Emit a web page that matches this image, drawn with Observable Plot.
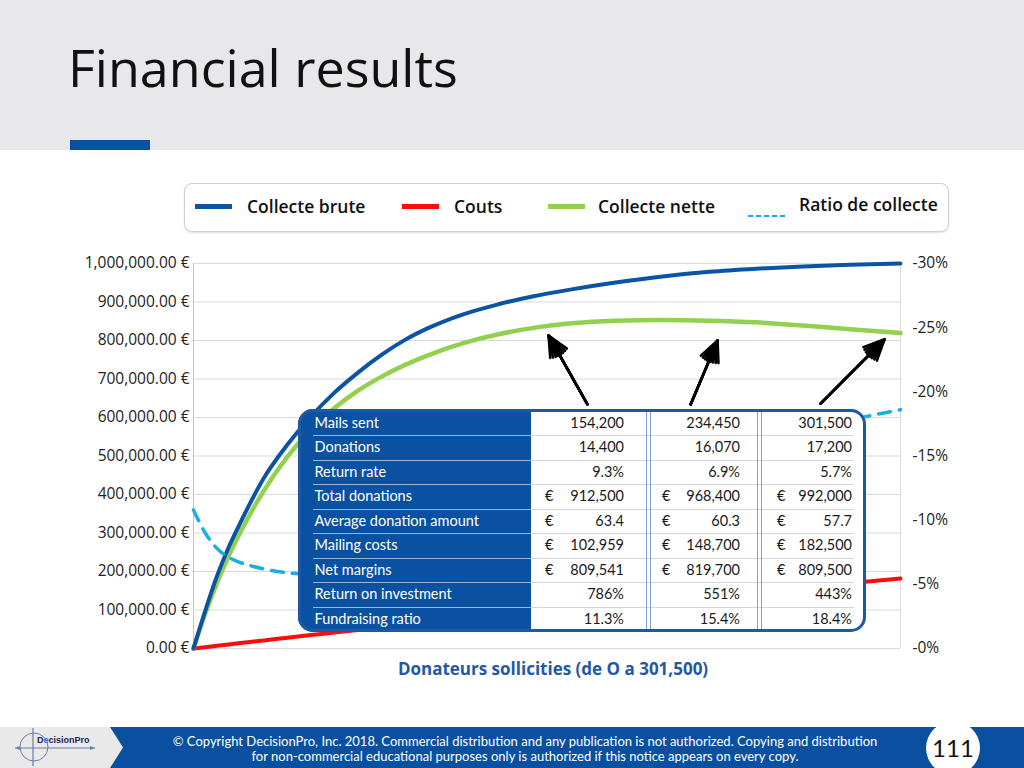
<!DOCTYPE html>
<html><head><meta charset="utf-8">
<script src="https://cdn.jsdelivr.net/npm/d3@7"></script>
<script src="https://cdn.jsdelivr.net/npm/@observablehq/plot@0.6"></script>
<style>
html,body{margin:0;padding:0;width:1024px;height:768px;overflow:hidden;background:#fff;font-family:"Open Sans",sans-serif;}
#page{position:relative;width:1024px;height:768px;overflow:hidden;}
#page div{position:absolute;box-sizing:border-box;white-space:nowrap;}
</style></head><body><div id="page"></div>
<script>
// ---------- data ----------
const donors        = [0, 5000, 10000, 15000, 20000, 30000, 40000, 50000, 60000, 70000, 80000, 90000, 100000, 115000, 130000, 145000, 160000, 180000, 200000, 220000, 240000, 260000, 280000, 301500];
const collecteBrute = [0, 98000, 188000, 263000, 327000, 443000, 529000, 602000, 664000, 716000, 762000, 801000, 832000, 868000, 894000, 915000, 931500, 950500, 966500, 978500, 986500, 992500, 996500, 1000000];
const couts         = [0, 3500, 7000, 10500, 14000, 21000, 28000, 35000, 41400, 47800, 54200, 60600, 67000, 76000, 85000, 94000, 103000, 114000, 125000, 136000, 147000, 158400, 169800, 182000];
const collecteNette = [0, 90000, 170000, 240000, 302000, 410000, 498000, 568000, 624000, 669000, 705500, 736000, 761500, 793000, 816300, 832800, 844000, 851600, 853200, 851600, 847200, 839200, 829200, 819500];
const ratioCollecte = [10.8, 9.0, 7.8, 7.1, 6.7, 6.2, 5.9, 5.8, 6.0, 6.5, 7.0, 7.5, 8.0, 8.8, 9.6, 10.5, 11.4, 12.5, 13.6, 14.7, 15.8, 16.8, 17.8, 18.6];

const leftTicks  = [0, 100000, 200000, 300000, 400000, 500000, 600000, 700000, 800000, 900000, 1000000];
const ratioTicks = [0, 5, 10, 15, 20, 25, 30];
const ratioMax = 30;
const xMax = 301500;

const legendLabels = ["Collecte brute", "Couts", "Collecte nette", "Ratio de collecte"];
const seriesColors = ["#0a54a3", "#f50f0f", "#92d050", "#1aaee5"];

const xLabel = "Donateurs sollicities (de O a 301,500)";

// arrow annotations (data space: donors, euros)
const arrowFromX = [168000, 212000, 267400];
const arrowFromY = [634000, 634000, 636000];
const arrowToX   = [151400, 223500, 294700];
const arrowToY   = [813000, 800000, 803000];

// table
const tableLabels = ["Mails sent", "Donations", "Return rate", "Total donations", "Average donation amount", "Mailing costs", "Net margins", "Return on investment", "Fundraising ratio"];
const scenario1 = ["154,200", "14,400", "9.3%", "912,500", "63.4", "102,959", "809,541", "786%", "11.3%"];
const scenario2 = ["234,450", "16,070", "6.9%", "968,400", "60.3", "148,700", "819,700", "551%", "15.4%"];
const scenario3 = ["301,500", "17,200", "5.7%", "992,000", "57.7", "182,500", "809,500", "443%", "18.4%"];
const euroRows  = [false, false, false, true, true, true, true, false, false];

const titleText = "Financial results";
const copyright1 = "© Copyright DecisionPro, Inc.  2018. Commercial distribution and any publication is not authorized. Copying and distribution";
const copyright2 = "for non-commercial educational purposes only is authorized if this notice appears on every copy.";
const pageNumber = "111";

// ---------- helpers ----------
const page = document.getElementById("page");
function el(css, text, parent) {
  const d = document.createElement("div");
  Object.assign(d.style, css);
  if (text != null) d.textContent = text;
  (parent || page).appendChild(d);
  return d;
}

// ---------- header ----------
el({left:"0px", top:"0px", width:"1024px", height:"150px", background:"#e8e8ea"});
el({left:"68px", top:"41px", fontSize:"52px", lineHeight:"52px", color:"#111", fontFamily:"'Open Sans'"}, titleText);
el({left:"70px", top:"140px", width:"80px", height:"10px", background:"#0a52a1"});

// ---------- legend ----------
el({left:"184px", top:"183px", width:"765px", height:"49px", border:"1.5px solid #cfcfcf", borderRadius:"8px", boxShadow:"0 1px 2px rgba(0,0,0,0.12)", background:"#fff"});
const swX = [195, 402, 548, 748];
const txX = [247, 454, 598, 799];
const txY = [195, 195, 195, 193];
legendLabels.forEach((lab, i) => {
  if (i < 3) {
    el({left: swX[i] + "px", top:"204px", width:"37px", height:"5px", background: seriesColors[i]});
  } else {
    const s = el({left: swX[i] + "px", top:"203px", width:"37px", height:"8px"});
    s.innerHTML = `<svg width="37" height="8"><line x1="0" y1="4" x2="37" y2="4" stroke="${seriesColors[3]}" stroke-width="2" stroke-dasharray="5,3"/></svg>`;
  }
  el({left: txX[i] + "px", top: txY[i] + "px", height:"22px", lineHeight:"22px", fontSize:"17.5px", fontWeight:"600", color:"#111"}, lab);
});

// ---------- chart ----------
const rowsOf = vals => donors.map((d, i) => ({d, v: vals[i]}));
const arrows = arrowFromX.map((x, i) => ({x1: x, y1: arrowFromY[i], x2: arrowToX[i], y2: arrowToY[i]}));
const arrowMarks = [50, 36, 22, 10].map(a =>
  Plot.arrow(arrows, {x1: "x1", y1: "y1", x2: "x2", y2: "y2", stroke: "#000", strokeWidth: 2.6, headLength: 13, headAngle: a}));

const chart = Plot.plot({
  width: 1024, height: 440,
  marginTop: 13, marginBottom: 42, marginLeft: 193, marginRight: 124,
  x: {domain: [0, xMax], axis: null},
  y: {domain: [0, 1000000]},
  style: {fontFamily: "'Open Sans'", fontSize: "15.5px", color: "#222", background: "transparent", overflow: "visible"},
  marks: [
    Plot.gridY(leftTicks, {stroke: "#d9d9d9", strokeOpacity: 1, strokeWidth: 1}),
    Plot.ruleX([0], {stroke: "#c4c4c4"}),
    Plot.ruleX([xMax], {stroke: "#d9d9d9"}),
    Plot.axisY(leftTicks, {anchor: "left", tickSize: 0, tickPadding: 4, label: null, tickFormat: d => d3.format(",.2f")(d) + " €"}),
    Plot.axisY(ratioTicks.map(v => v / ratioMax * 1000000), {anchor: "right", tickSize: 0, tickPadding: 12, label: null, tickFormat: d => "-" + Math.round(d / 1000000 * ratioMax) + "%"}),
    Plot.line(rowsOf(couts), {x: "d", y: "v", stroke: seriesColors[1], strokeWidth: 4, curve: "monotone-x"}),
    Plot.line(rowsOf(collecteNette), {x: "d", y: "v", stroke: seriesColors[2], strokeWidth: 4.5, curve: "monotone-x"}),
    Plot.line(rowsOf(collecteBrute), {x: "d", y: "v", stroke: seriesColors[0], strokeWidth: 4, curve: "monotone-x"}),
    Plot.line(rowsOf(ratioCollecte), {x: "d", y: r => r.v / ratioMax * 1000000, stroke: seriesColors[3], strokeWidth: 3.5, strokeDasharray: "12,9", curve: "monotone-x"}),
    ...arrowMarks
  ]
});
const holder = el({left:"0px", top:"250px", width:"1024px", height:"440px"});
holder.appendChild(chart);

el({left:"353px", top:"657px", width:"400px", height:"24px", lineHeight:"24px", textAlign:"center", fontSize:"17px", fontWeight:"700", color:"#2358a6"}, xLabel);

// ---------- table ----------
const T = {x: 298, y: 409, w: 568, h: 223};
const tbl = el({left: T.x + "px", top: T.y + "px", width: T.w + "px", height: T.h + "px", borderRadius:"15px", overflow:"hidden", background:"#fff"});
el({left:"0px", top:"0px", width:"233px", height: T.h + "px", background:"#0b51a1"}, null, tbl);
const rowH = 24.5, row0 = 1.5;
for (let i = 1; i < tableLabels.length; i++) {
  const y = row0 + rowH * i;
  el({left:"15px", top: y + "px", width:"218px", height:"1px", background:"rgba(200,215,235,0.75)"}, null, tbl);
  el({left:"233px", top: y + "px", width:"323px", height:"1px", background:"#d6d6d6"}, null, tbl);
}
[348, 352, 459, 463].forEach(x => el({left: x + "px", top:"0px", width:"1px", height: T.h + "px", background:"#7d9fd3"}, null, tbl));
const colRight = [T.w - 624 + T.x, T.w - 740 + T.x, T.w - 852 + T.x]; // right offsets
const euroLeft = [247, 364, 479];
const cols = [scenario1, scenario2, scenario3];
tableLabels.forEach((lab, i) => {
  const y = row0 + rowH * i;
  const cs = {top: y + "px", height: rowH + "px", lineHeight: rowH + "px", fontSize: "14.5px", fontFamily: "Lato"};
  el(Object.assign({left:"16.5px", color:"#fff"}, cs), lab, tbl);
  cols.forEach((col, c) => {
    el(Object.assign({right: colRight[c] + "px", color:"#1a1a1a", textAlign:"right"}, cs), col[i], tbl);
    if (euroRows[i]) el(Object.assign({left: euroLeft[c] + "px", color:"#1a1a1a"}, cs), "€", tbl);
  });
});
el({left: T.x + "px", top: T.y + "px", width: T.w + "px", height: T.h + "px", borderRadius:"15px", border:"3px solid #1c58a6"});

// ---------- footer ----------
const foot = el({left:"0px", top:"727px", width:"1024px", height:"41px"});
foot.innerHTML = `<svg width="1024" height="41" style="display:block">
  <rect x="0" y="0" width="1024" height="41" fill="#0a50a0"/>
  <polygon points="0,0 110,0 123,20.5 110,41 0,41" fill="#e9e9e9"/>
  <circle cx="34" cy="20" r="14" fill="none" stroke="#6a7fb0" stroke-width="1"/>
  <line x1="15" y1="21" x2="95" y2="21" stroke="#6a7fb0" stroke-width="1.2"/>
  <line x1="33" y1="1" x2="33" y2="39" stroke="#6a7fb0" stroke-width="1.2"/>
  <polygon points="95,21 90,19 90,23" fill="#6a7fb0"/>
  <polygon points="15,21 20,19 20,23" fill="#6a7fb0"/>
  <text x="37" y="16" font-family="Liberation Sans" font-weight="bold" font-size="9" fill="#1c2452">D<tspan fill="#2a6fd6">e</tspan>cisionPro</text>
</svg>`;
el({left:"125px", top:"734px", width:"800px", lineHeight:"15px", fontSize:"13px", fontFamily:"Lato", color:"#fff", textAlign:"center"}, copyright1);
el({left:"125px", top:"749px", width:"800px", lineHeight:"15px", fontSize:"13px", fontFamily:"Lato", color:"#fff", textAlign:"center"}, copyright2);
el({left:"926px", top:"721px", width:"54px", height:"54px", borderRadius:"50%", background:"#fff"});
el({left:"926px", top:"734px", width:"54px", height:"28px", lineHeight:"28px", textAlign:"center", fontSize:"24px", fontFamily:"Lato", color:"#111"}, pageNumber);
</script></body></html>
